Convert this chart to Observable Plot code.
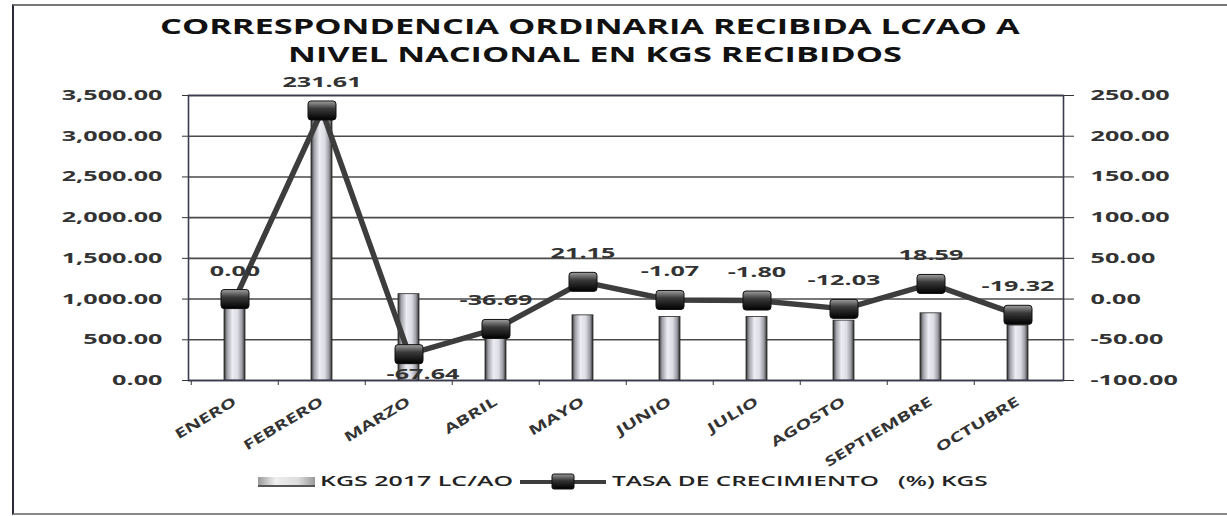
<!DOCTYPE html>
<html><head><meta charset="utf-8">
<script src="https://cdn.jsdelivr.net/npm/d3@7"></script>
<script src="https://cdn.jsdelivr.net/npm/@observablehq/plot@0.6"></script>
<style>
html,body{margin:0;padding:0;background:#fff;}
#wrap{position:relative;width:1227px;height:516px;overflow:hidden;font-family:"Open Sans",sans-serif;}
#frame{position:absolute;left:12px;top:4px;width:1240px;height:507px;border-left:2px solid #2a2a3a;border-top:2px solid #777;border-bottom:2px solid #888;}
.tline{position:absolute;left:0;white-space:nowrap;font-weight:700;font-size:21px;color:#111;transform-origin:0 0;}
#chart{position:absolute;left:0;top:0;}
.leg{position:absolute;white-space:nowrap;font-size:15px;font-weight:600;color:#222;transform-origin:0 0;}
</style></head><body>
<div id="wrap">
 <div id="frame"></div>
 <div id="chart"></div>
 <div class="tline" id="t1" style="top:12px">CORRESPONDENCIA ORDINARIA RECIBIDA LC/AO A</div>
 <div class="tline" id="t2" style="top:40px">NIVEL NACIONAL EN KGS RECIBIDOS</div>
 <div id="sw1" style="position:absolute;left:258px;top:477px;width:57px;height:8px;background:linear-gradient(90deg,#999,#eee 30%,#ddd 70%,#999);border-bottom:2px solid #555;"></div>
 <div class="leg" id="l1" style="left:320px;top:470px">KGS 2017 LC/AO</div>
 <svg style="position:absolute;left:518px;top:470px" width="92" height="24">
  <defs><linearGradient id="mkL" x1="0" y1="0" x2="0" y2="1"><stop offset="0" stop-color="#9a9a9a"/><stop offset="0.45" stop-color="#333"/><stop offset="1" stop-color="#000"/></linearGradient></defs>
  <line x1="2" y1="12" x2="88" y2="12" stroke="#3d3d3d" stroke-width="4"/>
  <rect x="34" y="4" width="22" height="15" rx="2" fill="url(#mkL)" stroke="#111"/>
 </svg>
 <div class="leg" id="l2" style="left:612px;top:470px">TASA DE CRECIMIENTO&nbsp;&nbsp;&nbsp;(%) KGS</div>
</div>
<script>
const months = ["ENERO","FEBRERO","MARZO","ABRIL","MAYO","JUNIO","JULIO","AGOSTO","SEPTIEMBRE","OCTUBRE"];
const kgs2017 = [1040, 3380, 1060, 690, 800, 780, 780, 735, 825, 675];
const tasa = [0.00, 231.61, -67.64, -36.69, 21.15, -1.07, -1.80, -12.03, 18.59, -19.32];
const leftTicks = [0, 500, 1000, 1500, 2000, 2500, 3000, 3500];
const rightTicks = [-100, -50, 0, 50, 100, 150, 200, 250];
const labelBelow = ["MARZO"];

const W = 1227, H = 516, ML = 188, MR = 164, MT = 95, MB = 136;
const rightToLeft = d3.scaleLinear().domain([-100, 250]).range([0, 3500]);
const data = months.map((m, i) => ({month: m, kgs: kgs2017[i], tasa: tasa[i], tasaL: rightToLeft(tasa[i])}));
const halfBand = (W - ML - MR) / months.length / 2;

const NS = "http://www.w3.org/2000/svg";
const defs = () => {
  const d = document.createElementNS(NS, "defs");
  d.innerHTML = `
  <linearGradient id="barGrad" x1="0" y1="0" x2="1" y2="0">
    <stop offset="0" stop-color="#2a2a2a"/><stop offset="0.14" stop-color="#9c9ca4"/>
    <stop offset="0.4" stop-color="#ececf2"/><stop offset="0.65" stop-color="#dcdce4"/>
    <stop offset="0.86" stop-color="#9a9aa2"/><stop offset="1" stop-color="#2a2a2a"/>
  </linearGradient>
  <linearGradient id="mkGrad" x1="0" y1="0" x2="0" y2="1">
    <stop offset="0" stop-color="#a0a0a0"/><stop offset="0.4" stop-color="#3a3a3a"/><stop offset="1" stop-color="#000"/>
  </linearGradient>`;
  return d;
};
const wideRect = {draw(ctx) { const w = 14, h = 9.5, r = 3;
  ctx.moveTo(-w + r, -h); ctx.lineTo(w - r, -h); ctx.arcTo(w, -h, w, -h + r, r);
  ctx.lineTo(w, h - r); ctx.arcTo(w, h, w - r, h, r); ctx.lineTo(-w + r, h);
  ctx.arcTo(-w, h, -w, h - r, r); ctx.lineTo(-w, -h + r); ctx.arcTo(-w, -h, -w + r, -h, r); ctx.closePath(); }};

const chart = Plot.plot({
  width: W, height: H,
  marginLeft: ML, marginRight: MR, marginTop: MT, marginBottom: MB,
  style: {fontFamily: "'Open Sans', sans-serif", fontSize: "14px", fontWeight: 700, color: "#333", background: "transparent", overflow: "visible"},
  x: {type: "band", domain: months, padding: 0, label: null},
  y: {domain: [0, 3500], label: null},
  marks: [
    defs,
    Plot.ruleY(leftTicks, {stroke: "#4a4a4a", strokeWidth: 1.6}),
    Plot.barY(data, {x: "month", y: "kgs", fill: "url(#barGrad)", stroke: "#2a2a2a", strokeWidth: 0.8, insetLeft: 33, insetRight: 33}),
    Plot.line(data, {x: "month", y: "tasaL", stroke: "#3d3d3d", strokeWidth: 5.5}),
    Plot.dot(data, {x: "month", y: "tasaL", symbol: wideRect, r: 10, fill: "url(#mkGrad)", stroke: "#111", strokeWidth: 1}),
    Plot.text(data.filter(d => !labelBelow.includes(d.month)), {x: "month", y: "tasaL", text: d => d.tasa.toFixed(2), dy: -28, fontSize: 14, fontWeight: 700, fill: "#333"}),
    Plot.text(data.filter(d => labelBelow.includes(d.month)), {x: "month", y: "tasaL", text: d => d.tasa.toFixed(2), dy: 20, dx: 14, fontSize: 14, fontWeight: 700, fill: "#333"}),
    Plot.axisY(leftTicks, {anchor: "left", tickFormat: d3.format(",.2f"), tickSize: 6, tickPadding: 20, stroke: "#333", fill: "#333"}),
    Plot.axisY(rightTicks.map(rightToLeft), {anchor: "right", tickFormat: d => rightToLeft.invert(d).toFixed(2), tickSize: 10, tickPadding: 17, stroke: "#333", fill: "#333"}),
    Plot.axisX({tickSize: 0, tickRotate: -31, tickPadding: 20, fontSize: 13.5, fill: "#333"}),
    Plot.axisX({tickSize: 5, tickFormat: () => "", dx: -halfBand, stroke: "#333"}),
    Plot.frame({stroke: "#3a3a50", strokeWidth: 1.6})
  ]
});
document.getElementById("chart").appendChild(chart);

// horizontal stretch of the scanned original (scale about each text's anchor)
chart.querySelectorAll("text").forEach(t => {
  const tr = t.getAttribute("transform");
  if (!tr) return;
  const k = /rotate/.test(tr) ? 1.5 : 1.8;
  t.setAttribute("transform", `${tr} scale(${k},1)`);
});

function fit() {
  const t1 = document.getElementById("t1"), t2 = document.getElementById("t2");
  t1.style.transform = t2.style.transform = "none";
  const k = 860 / t1.offsetWidth;
  t1.style.transform = t2.style.transform = `scaleX(${k})`;
  t1.style.left = (590 - t1.offsetWidth * k / 2) + "px";
  t2.style.left = (595 - t2.offsetWidth * k / 2) + "px";
  [["l1", 193], ["l2", 376]].forEach(([id, w]) => {
    const e = document.getElementById(id); e.style.transform = "none";
    e.style.transform = `scaleX(${w / e.offsetWidth})`;
  });
}
fit();
if (document.fonts) document.fonts.ready.then(fit);
</script>
</body></html>
